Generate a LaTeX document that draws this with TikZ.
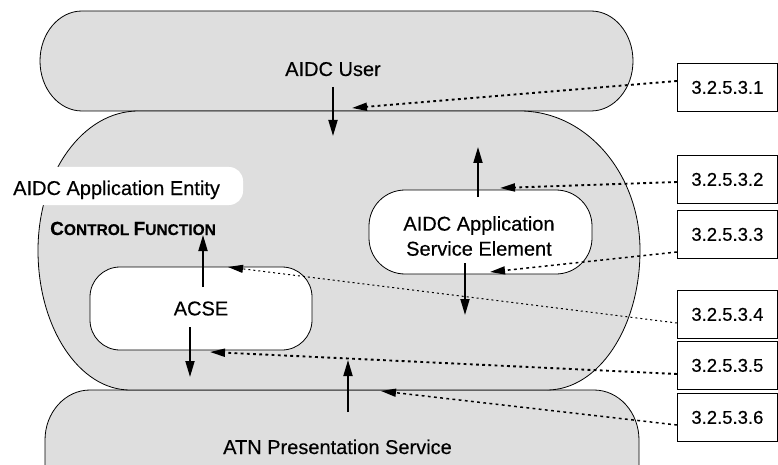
\documentclass[tikz,border=0pt]{standalone}
\usepackage{fontspec}
\setmainfont{Liberation Sans}[FakeBold=0.35, BoldFeatures={FakeBold=0.2}]
\usetikzlibrary{arrows.meta}
\definecolor{panel}{RGB}{222,222,222}

\begin{document}
\begin{tikzpicture}[x=1pt,y=-1pt,
  shell/.style={draw=black, line width=0.8pt, fill=panel},
  inner/.style={draw=black, line width=0.8pt, fill=white},
  lbl/.style={font=\fontsize{20}{25}\selectfont, inner sep=0pt},
  refbox/.style={draw=black, line width=0.8pt, fill=white, minimum width=100pt,
    minimum height=48pt, anchor=north west, inner sep=0pt,
    font=\fontsize{18.5}{22}\selectfont},
  flow/.style={line width=1.8pt, -{Triangle[length=16pt,width=9pt]}},
  lead/.style={line width=1.9pt, dash pattern=on 2.8pt off 3.4pt,
    -{Triangle[length=15pt,width=8pt]}},
  leadmid/.style={lead, line width=1.5pt},
  leadthin/.style={lead, line width=1pt, dash pattern=on 2pt off 3pt}
]
\useasboundingbox (0,0) rectangle (778,465);
\clip (0,0) rectangle (778,465);

% layer above: AIDC User
\draw[shell] (82,11) -- (591,11)
  arc[start angle=270, end angle=450, x radius=42, y radius=50]
  -- (82,111)
  arc[start angle=90, end angle=270, x radius=42, y radius=50] -- cycle;

% layer below: ATN Presentation Service
\draw[shell] (45,520) -- (45,440)
  arc[start angle=180, end angle=270, x radius=45, y radius=50]
  -- (594,390)
  arc[start angle=270, end angle=360, x radius=45, y radius=50]
  -- (639,520) -- cycle;

% application entity
\draw[shell] (138,111) -- (520,111)
  arc[start angle=270, end angle=360, x radius=120, y radius=139.5]
  arc[start angle=0, end angle=90, x radius=93, y radius=139.5]
  -- (130,390)
  arc[start angle=90, end angle=180, x radius=92, y radius=139.5]
  arc[start angle=180, end angle=270, x radius=100, y radius=139.5] -- cycle;

% label tab of the entity
\fill[white, rounded corners=14pt] (-20,167) rectangle (243,205);

\node[lbl, anchor=base] (user) at (333,76) {AIDC User};
\node[lbl, anchor=base] (atn) at (337.5,454) {ATN Presentation Service};
\node[lbl, anchor=base west] (entity) at (13,195) {AIDC Application Entity};
\node[anchor=base west, inner sep=0pt, font=\bfseries] (ctrl) at (50,235)
  {\fontsize{19}{19}\selectfont C\fontsize{15.5}{19}\selectfont ONTROL
   \fontsize{19}{19}\selectfont F\fontsize{15.5}{19}\selectfont UNCTION};

% service elements
\node[inner, rounded corners=36pt, minimum width=223pt, minimum height=84pt]
  (ase) at (480.5,232) {};
\node[lbl, align=center] (asetext) at (479,236) {AIDC Application\\Service Element};
\node[inner, lbl, rounded corners=30pt, minimum width=222pt, minimum height=83pt]
  (acse) at (201,308.5) {ACSE};

% reference boxes
\node[refbox] (r1) at (677,63)  {3.2.5.3.1};
\node[refbox] (r2) at (677,155) {3.2.5.3.2};
\node[refbox] (r3) at (677,210) {3.2.5.3.3};
\node[refbox] (r4) at (677,290) {3.2.5.3.4};
\node[refbox] (r5) at (677,341) {3.2.5.3.5};
\node[refbox] (r6) at (677,393) {3.2.5.3.6};

% end points of the flows
\coordinate (userout) at (333,87);   \coordinate (userin) at (333,136);
\coordinate (aseup0) at (478,197);   \coordinate (aseup1) at (478,147);
\coordinate (asedn0) at (465,263);   \coordinate (asedn1) at (465,315);
\coordinate (acseup0) at (203,287);  \coordinate (acseup1) at (203,235);
\coordinate (acsedn0) at (190,327);  \coordinate (acsedn1) at (190,377);
\coordinate (atnup0) at (348,412);   \coordinate (atnup1) at (348,360);

\draw[flow] (userout) -- (userin);
\draw[flow] (aseup0) -- (aseup1);
\draw[flow] (asedn0) -- (asedn1);
\draw[flow] (acseup0) -- (acseup1);
\draw[flow] (acsedn0) -- (acsedn1);
\draw[flow] (atnup0) -- (atnup1);

% interfaces pointed at by the references
\coordinate (t1) at (352,108);
\coordinate (t2) at (500,188);
\coordinate (t3) at (490,272);
\coordinate (t4) at (228,267);
\coordinate (t5) at (210,352);
\coordinate (t6) at (381,391);

\draw[lead]     ([yshift=-18pt]r1.north west) -- (t1);
\draw[lead]     ([yshift=-27pt]r2.north west) -- (t2);
\draw[leadmid]  ([yshift=-42pt]r3.north west) -- (t3);
\draw[leadthin] ([yshift=-33pt]r4.north west) -- (t4);
\draw[lead]     ([yshift=-33pt]r5.north west) -- (t5);
\draw[leadmid]  ([yshift=-32pt]r6.north west) -- (t6);
\end{tikzpicture}
\end{document}
